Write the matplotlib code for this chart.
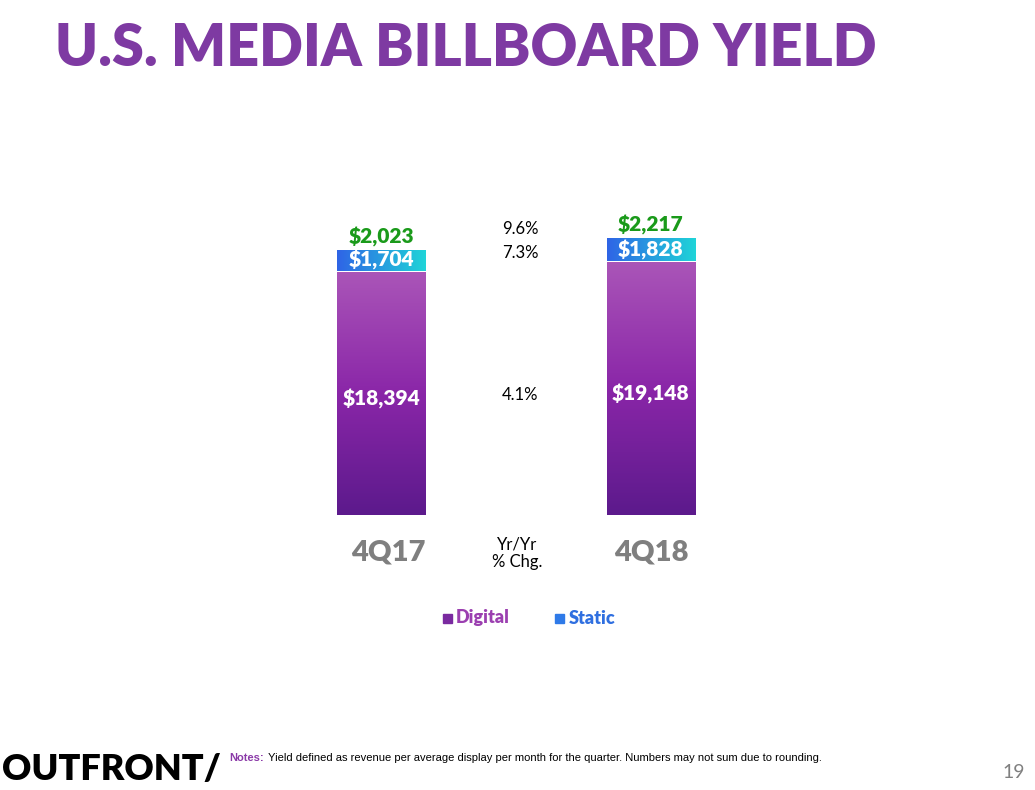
import numpy as np
import matplotlib.pyplot as plt
from matplotlib.colors import LinearSegmentedColormap

quarters = ['4Q17', '4Q18']
digital = [18394, 19148]
static = [1704, 1828]
totals = ['$2,023', '$2,217']
chg_labels = ['9.6%', '7.3%', '4.1%']

W, H = 1035, 790
fig = plt.figure(figsize=(W / 100, H / 100), dpi=100)
plt.rcParams['font.family'] = ['Lato', 'DejaVu Sans']


def px(x, y):
    return x / W, 1 - y / H


# axes mapped so bar centres land at the picture's positions
ax = fig.add_axes([250 / W, (H - 515) / H, 540 / W, 277 / H])
ax.axis('off')

bw = 0.33
purple = np.linspace(0, 1, 256).reshape(-1, 1)
blue = np.linspace(0, 1, 256).reshape(1, -1)
pcm = LinearSegmentedColormap.from_list('p', ['#5c1a8c', '#8a26a8', '#aa55b8'])
bcm = LinearSegmentedColormap.from_list('b', ['#2f64e6', '#1fd4d8'])

for i in range(2):
    x0, x1 = i - bw / 2, i + bw / 2
    ax.imshow(purple, cmap=pcm, aspect='auto', origin='lower',
              extent=[x0, x1, 0, digital[i]], zorder=2)
    ax.imshow(blue, cmap=bcm, aspect='auto',
              extent=[x0, x1, digital[i] + 120, digital[i] + static[i]], zorder=2)
    ax.text(i, digital[i] * 0.48, f'${digital[i]:,}', color='white', fontsize=15,
            fontweight='heavy', ha='center', va='center', zorder=3)
    ax.text(i, digital[i] + static[i] / 2 + 60, f'${static[i]:,}', color='white',
            fontsize=15, fontweight='heavy', ha='center', va='center', zorder=3)
    ax.text(i, digital[i] + static[i] + 250, totals[i], color='#1a9a1a',
            fontsize=15, fontweight='heavy', ha='center', va='bottom', zorder=3)
ax.set_xlim(-0.49, 1.517)
ax.set_ylim(0, 21000)

# Yr/Yr column
for lbl, y in zip(chg_labels, [229, 253, 395]):
    fig.text(*px(520, y), lbl, fontsize=12, ha='center', va='center')
fig.text(*px(517, 553), 'Yr/Yr\n% Chg.', fontsize=12, ha='center', va='center',
         linespacing=1.1)
for q, x in zip(quarters, [388, 651]):
    fig.text(*px(x, 552), q, fontsize=21, fontweight='heavy', color='#7f7f7f',
             ha='center', va='center')

# legend
fig.patches.append(plt.Rectangle(px(443, 623), 9 / W, 9 / H, transform=fig.transFigure,
                                 color='#7a2aa0', figure=fig))
fig.text(*px(456, 618), 'Digital', fontsize=13, fontweight='heavy', color='#9b3fb0',
         va='center')
fig.patches.append(plt.Rectangle(px(555, 623), 9 / W, 9 / H, transform=fig.transFigure,
                                 color='#2f7ae8', figure=fig))
fig.text(*px(569, 618), 'Static', fontsize=13, fontweight='heavy', color='#2f6fe0',
         va='center')

# title
fig.text(*px(55, 48), 'U.S. MEDIA BILLBOARD YIELD', fontsize=41.5, fontweight='heavy',
         color='#7e3aa2', va='center')

# footer
fig.text(*px(2, 770), 'OUTFRONT/', fontsize=26, fontweight='heavy', color='black',
         va='center')
fig.text(*px(229, 758), 'Notes:', fontsize=8, fontweight='bold', color='#8b3aa8',
         va='center', family='Liberation Sans')
fig.text(*px(268, 758), 'Yield defined as revenue per average display per month for the quarter. '
         'Numbers may not sum due to rounding.', fontsize=8, va='center',
         family='Liberation Sans')
fig.text(*px(1025, 772), '19', fontsize=14, color='#808080', ha='right', va='center')

fig.savefig('out.png', dpi=100)
